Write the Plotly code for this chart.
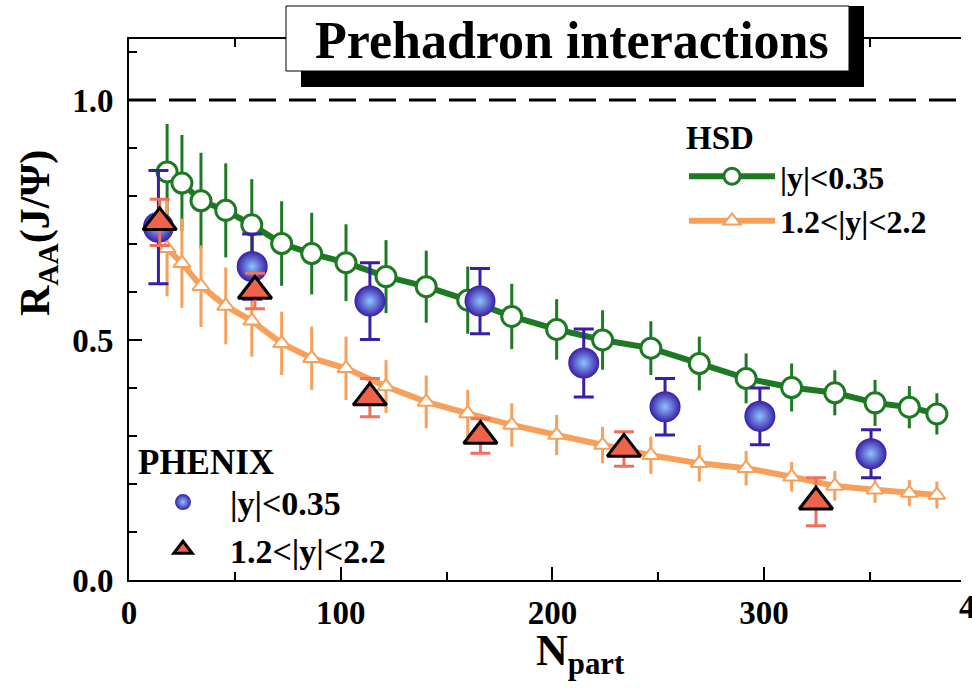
import plotly.graph_objects as go

# ---------------- data ----------------
hsd_npart = [18, 25, 34, 45.7, 58, 72.1, 86.3, 102.5, 121.4, 140.4, 160, 180.8,
             202, 223.7, 246.5, 269.4, 291.5, 313, 333.4, 352.4, 368.6, 381.6]
hsd_mid_raa = [0.850, 0.827, 0.790, 0.770, 0.740, 0.701, 0.680, 0.661, 0.632, 0.611, 0.583,
               0.549, 0.522, 0.500, 0.483, 0.451, 0.420, 0.401, 0.390, 0.369, 0.360, 0.346]
hsd_mid_err = [0.10, 0.10, 0.10, 0.098, 0.095, 0.088, 0.085, 0.08, 0.076, 0.075, 0.07,
               0.068, 0.063, 0.062, 0.056, 0.056, 0.052, 0.05, 0.047, 0.048, 0.044, 0.043]
hsd_fwd_raa = [0.691, 0.660, 0.612, 0.571, 0.540, 0.493, 0.462, 0.441, 0.403, 0.371, 0.347,
               0.323, 0.302, 0.281, 0.260, 0.243, 0.233, 0.215, 0.196, 0.188, 0.181, 0.177]
hsd_fwd_err = [0.10, 0.093, 0.085, 0.08, 0.075, 0.066, 0.066, 0.066, 0.055, 0.055, 0.049,
               0.045, 0.042, 0.038, 0.039, 0.038, 0.036, 0.031, 0.031, 0.027, 0.027, 0.028]

phenix_mid_npart = [13.9, 58.2, 113.8, 165.8, 214.8, 253.2, 298, 350.5]
phenix_mid_raa = [0.735, 0.653, 0.581, 0.581, 0.452, 0.361, 0.341, 0.263]
phenix_mid_err = [0.118, 0.068, 0.08, 0.068, 0.071, 0.059, 0.059, 0.05]

phenix_fwd_npart = [14.5, 59.5, 113.8, 166, 233.8, 324.5]
phenix_fwd_raa = [0.745, 0.602, 0.380, 0.300, 0.273, 0.163]
phenix_fwd_err = [0.048, 0.037, 0.04, 0.036, 0.036, 0.05]

label_mid = "|y|&lt;0.35"
label_fwd = "1.2&lt;|y|&lt;2.2"

# ---------------- style ----------------
SERIF = "Liberation Serif, Times New Roman, serif"
GREEN = "#1d7a22"
ORANGE = "#f8a05a"
INDIGO = "#3a1ea6"
RED = "#f0624a"
RED_ERR = "#f07060"

W, H = 972, 688
ML, MR, MT, MB = 129, 11, 39, 108

fig = go.Figure()

fig.add_trace(go.Scatter(
    x=hsd_npart, y=hsd_mid_raa, name=label_mid, legend="legend",
    mode="lines+markers",
    line=dict(color=GREEN, width=6),
    marker=dict(symbol="circle", size=20, color="white", line=dict(color=GREEN, width=3)),
    error_y=dict(type="data", array=hsd_mid_err, color=GREEN, thickness=3, width=0),
))
fig.add_trace(go.Scatter(
    x=hsd_npart, y=hsd_fwd_raa, name=label_fwd, legend="legend",
    mode="lines+markers",
    line=dict(color=ORANGE, width=6),
    marker=dict(symbol="triangle-up", size=15, color="white", line=dict(color=ORANGE, width=2)),
    error_y=dict(type="data", array=hsd_fwd_err, color=ORANGE, thickness=3, width=0),
))
fig.add_trace(go.Scatter(
    x=phenix_mid_npart, y=phenix_mid_raa, name=label_mid, legend="legend2",
    mode="markers",
    marker=dict(symbol="circle", size=31, color=INDIGO,
                gradient=dict(type="radial", color="#8cc4ff"),
                line=dict(color=INDIGO, width=0)),
    error_y=dict(type="data", array=phenix_mid_err, color=INDIGO, thickness=3, width=10),
))
fig.add_trace(go.Scatter(
    x=phenix_fwd_npart, y=phenix_fwd_raa, name=label_fwd, legend="legend2",
    mode="markers",
    marker=dict(symbol="triangle-up", size=29, color=RED, line=dict(color="black", width=3)),
    error_y=dict(type="data", array=phenix_fwd_err, color=RED_ERR, thickness=3, width=10),
))

plot_w = W - ML - MR
plot_h = H - MT - MB


def px_x(p):
    return (p - ML) / plot_w


def px_y(p):
    return (H - MB - p) / plot_h


shapes = [
    # reference line R_AA = 1
    dict(type="line", xref="paper", yref="y", x0=0, x1=1, y0=1.0, y1=1.0,
         line=dict(color="black", width=3, dash="27px,13px"), layer="above"),
    # title box shadow
    dict(type="rect", xref="paper", yref="paper",
         x0=px_x(301), x1=px_x(864), y0=px_y(87), y1=px_y(6),
         fillcolor="black", line=dict(width=0), layer="above"),
    # title box
    dict(type="rect", xref="paper", yref="paper",
         x0=px_x(286), x1=px_x(849), y0=px_y(71), y1=px_y(6),
         fillcolor="white", line=dict(color="black", width=1), layer="above"),
]

annotations = [
    dict(text="<b>Prehadron interactions</b>", xref="paper", yref="paper",
         x=px_x(572), y=px_y(40), showarrow=False, xanchor="center", yanchor="middle",
         font=dict(family=SERIF, size=52, color="black")),
    dict(text="<b>R<sub>AA</sub>(J/Ψ)</b>", xref="paper", yref="paper",
         x=px_x(38), y=px_y(233), showarrow=False, textangle=-90,
         xanchor="center", yanchor="middle",
         font=dict(family=SERIF, size=42, color="black")),
    dict(text="<b>N<sub>part</sub></b>", xref="paper", yref="paper",
         x=px_x(580), y=px_y(653), showarrow=False, xanchor="center", yanchor="middle",
         font=dict(family=SERIF, size=44, color="black")),
    dict(text="<b>400</b>", xref="paper", yref="paper",
         x=px_x(984), y=px_y(607), showarrow=False, xanchor="center", yanchor="middle",
         font=dict(family=SERIF, size=33, color="black")),
]

fig.update_layout(
    width=W, height=H,
    margin=dict(l=ML, r=MR, t=MT, b=MB, pad=0, autoexpand=False),
    paper_bgcolor="white", plot_bgcolor="white",
    showlegend=True,
    shapes=shapes,
    annotations=annotations,
    legend=dict(
        title=dict(text="<b>HSD</b>", font=dict(family=SERIF, size=33, color="black")),
        font=dict(family=SERIF, size=32, color="black", weight="bold"),
        xref="paper", yref="paper", x=px_x(684), y=px_y(106),
        xanchor="left", yanchor="top", bgcolor="rgba(0,0,0,0)",
        traceorder="normal", tracegroupgap=0, itemwidth=86,
    ),
    legend2=dict(
        title=dict(text="<b>PHENIX</b>", font=dict(family=SERIF, size=35, color="black")),
        font=dict(family=SERIF, size=34, color="black", weight="bold"),
        xref="paper", yref="paper", x=px_x(136), y=px_y(428),
        xanchor="left", yanchor="top", bgcolor="rgba(0,0,0,0)",
        traceorder="normal", tracegroupgap=0, itemwidth=84,
    ),
)

fig.update_xaxes(
    range=[0, 393], showgrid=False, zeroline=False,
    showline=True, linecolor="black", linewidth=2, mirror="ticks",
    ticks="inside", ticklen=13, tickwidth=2, tickcolor="black",
    tick0=0, dtick=100, ticklabelstandoff=2,
    tickfont=dict(family=SERIF, size=33, color="black", weight="bold"),
    minor=dict(ticks="inside", dtick=50, ticklen=8, tickwidth=2, tickcolor="black"),
)
fig.update_yaxes(
    range=[0, 1.127], showgrid=False, zeroline=False,
    showline=True, linecolor="black", linewidth=2, mirror=False,
    ticks="inside", ticklen=13, tickwidth=2, tickcolor="black",
    tick0=0, dtick=0.5, tickformat=".1f", ticklabelstandoff=7,
    tickfont=dict(family=SERIF, size=33, color="black", weight="bold"),
    minor=dict(ticks="inside", dtick=0.1, ticklen=8, tickwidth=2, tickcolor="black"),
)

fig.write_html("out.html")
